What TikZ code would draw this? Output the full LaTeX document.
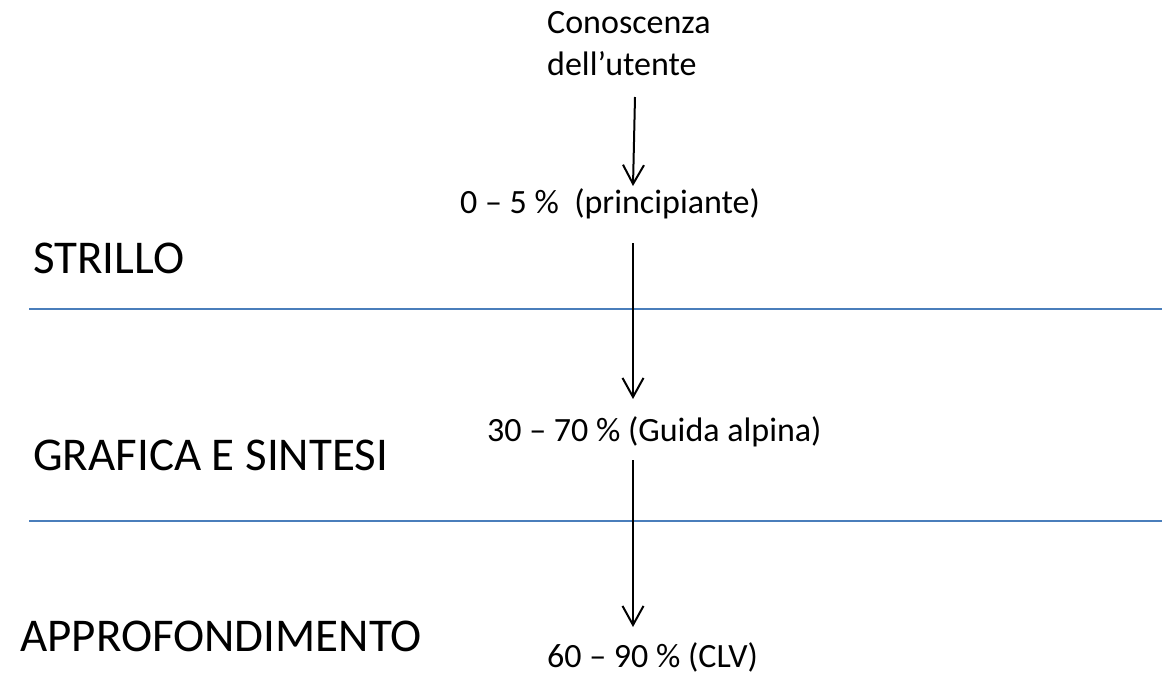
\documentclass[tikz,border=0pt]{standalone}
\usepackage{fontspec}
\setmainfont{Carlito}
\usetikzlibrary{arrows.meta}
\definecolor{sepblue}{HTML}{4A7EBB}
\tikzset{
  small/.style={inner sep=0pt, anchor=base west, font=\fontsize{34}{41}\selectfont},
  big/.style={inner sep=0pt, anchor=base west, font=\fontsize{47}{56}\selectfont},
  sepline/.style={draw=sepblue, line width=2pt},
  flow/.style={draw=black, line width=2pt, -{Straight Barb[length=19pt,width=21pt]}}
}
\begin{document}
\begin{tikzpicture}[x=1pt,y=-1pt]
\useasboundingbox (0,0) rectangle (1162,688);
% separators
\coordinate (l1a) at (29,309); \coordinate (l1b) at (1162,309);
\coordinate (l2a) at (29,521); \coordinate (l2b) at (1162,521);
\draw[sepline] (l1a) -- (l1b);
\draw[sepline] (l2a) -- (l2b);
% texts
\node[small] (con) at (547,33) {Conoscenza};
\node[small] (dell) at (547,75) {dell’utente};
\node[small] (p1) at (460,213) {0 – 5 \%\ \ (principiante)};
\node[small] (p2) at (487,441) {30 – 70 \% (Guida alpina)};
\node[small] (p3) at (547,667) {60 – 90 \% (CLV)};
\node[big] (s1) at (33,273) {STRILLO};
\node[big] (s2) at (33,470) {GRAFICA E SINTESI};
\node[big] (s3) at (20,651) {APPROFONDIMENTO};
% arrows
\coordinate (a1s) at (635,97);  \coordinate (a1e) at (633,186);
\coordinate (a2s) at (633,243); \coordinate (a2e) at (633,399);
\coordinate (a3s) at (633,460); \coordinate (a3e) at (633,627);
\draw[flow] (a1s) -- (a1e);
\draw[flow] (a2s) -- (a2e);
\draw[flow] (a3s) -- (a3e);
\end{tikzpicture}
\end{document}
